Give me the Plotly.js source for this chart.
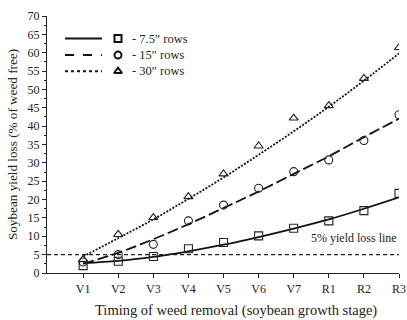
<!DOCTYPE html>
<html>
<head>
<meta charset="utf-8">
<script src="https://cdn.plot.ly/plotly-3.0.1.min.js"></script>
<style>html,body{margin:0;padding:0;background:#fff;}#chart{width:407px;height:320px;}</style>
</head>
<body>
<div id="chart"></div>
<script>
var stages = ["V1","V2","V3","V4","V5","V6","V7","R1","R2","R3"];
// observed data
var obs75 = [2.0, 3.2, 4.5, 6.6, 8.3, 10.1, 12.2, 14.2, 17.0, 21.7];
var obs15 = [3.0, 5.0, 7.8, 14.2, 18.5, 23.1, 27.6, 30.8, 36.1, 43.1];
var obs30 = [3.7, 10.5, 15.1, 20.8, 27.0, 34.6, 42.2, 45.6, 53.0, 61.4];
// fitted curves
var fit75 = [2.7, 3.3, 4.4, 5.9, 7.7, 9.8, 12.1, 14.6, 17.5, 20.6];
var fit15 = [2.5, 5.5, 9.2, 13.3, 17.7, 22.2, 27.0, 31.8, 37.0, 42.0];
var fit30 = [4.5, 9.5, 14.6, 20.2, 26.0, 32.2, 38.6, 45.3, 52.4, 59.8];
var threshold = [5, 5];
var thresholdX = [-1.03, 9];
var legendLabels = ["- 7.5\u2033 rows", "- 15\u2033 rows", "- 30\u2033 rows"];
var xTitle = "Timing of weed removal (soybean growth stage)";
var yTitle = "Soybean yield loss (% of weed free)";

var xi = stages.map(function(_, i){ return i; });
var font = "Liberation Serif, Times New Roman, serif";

function fitTrace(y, dash){
  return {x: xi, y: y, mode: "lines", type: "scatter", line: {color: "#111", width: 1.8, dash: dash, shape: "spline"}, hoverinfo: "skip", showlegend: false};
}
function obsTrace(y, sym){
  return {x: xi, y: y, mode: "markers", type: "scatter", marker: {symbol: sym, size: 8, color: "#222", line: {color: "#222", width: 1.1}}, showlegend: false};
}

var traces = [
  {x: thresholdX, y: threshold, mode: "lines", type: "scatter", line: {color: "#222", width: 1.2, dash: "4px,3px"}, showlegend: false},
  fitTrace(fit75, "solid"),
  fitTrace(fit15, "11px,4px"),
  fitTrace(fit30, "2px,1.5px"),
  obsTrace(obs75, "square-open"),
  obsTrace(obs15, "circle-open"),
  obsTrace(obs30, "triangle-up-open")
];

// manual legend (layout decoration)
var legY = [0.912, 0.848, 0.785];
var legDash = ["solid", "dash", "dot"];
var shapes = [];
var annotations = [];
var px2x = function(p){ return (p - 47) / (399 - 47); };
for (var i = 0; i < 3; i++) {
  shapes.push({type: "line", xref: "paper", yref: "paper", x0: px2x(65), x1: px2x(102), y0: legY[i], y1: legY[i],
    line: {color: "#111", width: 2, dash: legDash[i]}});
  annotations.push({xref: "paper", yref: "paper", x: px2x(130), y: legY[i], xanchor: "left", yanchor: "middle",
    text: legendLabels[i], showarrow: false, font: {family: font, size: 12.5, color: "#222"}});
}

annotations.push({xref: "x", yref: "y", x: 9, y: 7.2, xanchor: "right", yanchor: "bottom", text: "5% yield loss line",
  showarrow: false, font: {family: font, size: 12, color: "#222"}});
// x-axis title (slightly right of centre, as in the reference)
annotations.push({xref: "paper", yref: "paper", x: px2x(236), y: -0.146, xanchor: "center", yanchor: "middle",
  text: xTitle, showarrow: false, font: {family: font, size: 14.5, color: "#222"}});

var layout = {
  width: 407, height: 320,
  margin: {l: 47, r: 8, t: 16, b: 47},
  paper_bgcolor: "#fff", plot_bgcolor: "#fff",
  font: {family: font, color: "#222"},
  showlegend: false,
  xaxis: {
    range: [-1.03, 9], tickvals: xi, ticktext: stages, showgrid: false, zeroline: false,
    showline: true, linecolor: "#222", linewidth: 1.2, ticks: "outside", ticklen: 4, tickcolor: "#222",
    tickfont: {family: font, size: 12, color: "#222"}
  },
  yaxis: {
    range: [0, 70], dtick: 5, showgrid: false, zeroline: false,
    showline: true, linecolor: "#222", linewidth: 1.2, ticks: "outside", ticklen: 4, tickcolor: "#222",
    minor: {dtick: 2.5, ticks: "outside", ticklen: 2, tickcolor: "#222", showgrid: false},
    tickfont: {family: font, size: 12, color: "#222"},
    title: {text: yTitle, font: {family: font, size: 13.2, color: "#222"}, standoff: 6}
  },
  shapes: shapes,
  annotations: annotations
};

// legend markers placed via axis coordinates converted from the legend positions
var legTrace = {
  x: [118, 118, 118].map(function(p){ return -1.03 + (p - 47) / (399 - 47) * 10.03; }),
  y: legY.map(function(f){ return f * 70; }),
  mode: "markers", type: "scatter", showlegend: false, hoverinfo: "skip", cliponaxis: false,
  marker: {symbol: ["square-open","circle-open","triangle-up-open"], size: 7, color: "#111", line: {color: "#111", width: 2}}
};
traces.push(legTrace);

Plotly.newPlot("chart", traces, layout, {displayModeBar: false, staticPlot: true});
</script>
</body>
</html>
